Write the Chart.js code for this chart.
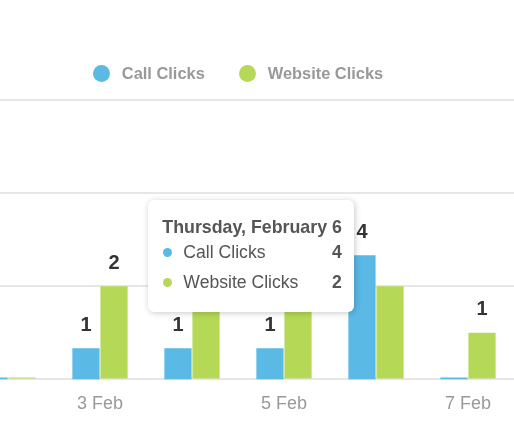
<!DOCTYPE html>
<html>
<head>
<meta charset="utf-8">
<script src="https://cdn.jsdelivr.net/npm/chart.js@4.4.0/dist/chart.umd.min.js"></script>
<style>
  html, body { margin: 0; padding: 0; background: #fff; overflow: hidden; }
  body { width: 514px; height: 423px; position: relative; font-family: "Liberation Sans", Arial, sans-serif; }
  #wrap { position: absolute; left: -38px; top: 0; width: 552px; height: 423px; }
  #legenda { position: absolute; left: 0; right: 0; top: 64px; height: 18px; display: flex; justify-content: center;
             align-items: center; font-size: 16.4px; font-weight: bold; color: #999; }
  #legenda .it { display: flex; align-items: center; margin: 0 17px; }
  #legenda .bola { width: 17px; height: 17px; border-radius: 50%; margin-right: 12px; }
  .tip { position: absolute; background: #fff; border-radius: 6px; box-shadow: 1px 1px 6px rgba(0,0,0,0.22);
         padding: 16px 12px 15px 14px; color: #555; font-size: 17.6px; white-space: nowrap; }
  .tip .t { font-weight: bold; line-height: 22px; font-size: 17.8px; }
  .tip .r { display: flex; align-items: center; height: 29.5px; }
  .tip .r:first-of-type { margin-top: 1px; }
  .tip .dot { width: 9px; height: 9px; border-radius: 50%; margin: 0 11px 0 1px; }
  .tip .v { margin-left: auto; padding-left: 20px; font-weight: bold; }
</style>
</head>
<body>
<div id="wrap"><canvas id="c" width="552" height="423"></canvas><div id="legenda"></div></div>
<script>
// dados
const dias = ['2 Feb', '3 Feb', '4 Feb', '5 Feb', '6 Feb', '7 Feb'];
const titulos = ['Sunday, February 2', 'Monday, February 3', 'Tuesday, February 4',
                 'Wednesday, February 5', 'Thursday, February 6', 'Friday, February 7'];
const callClicks = [0, 1, 1, 1, 4, 0];
const websiteClicks = [0, 2, 2, 2, 2, 1];
const diaAtivo = 4;
// etiquetas que nao aparecem no original ("serie:indice")
const semEtiqueta = ['1:4'];

const cor = { azul: '#5bb9e5', verde: '#b5d957', cinza: '#999999', texto: '#333333', grelha: '#e6e6e6' };

// etiquetas com o valor por cima das barras (sem o plugin datalabels)
const etiquetas = {
  id: 'etiquetas',
  afterDatasetsDraw(chart) {
    const ctx = chart.ctx;
    ctx.save();
    ctx.font = 'bold 20px "Liberation Sans", Arial, sans-serif';
    ctx.fillStyle = cor.texto;
    ctx.textAlign = 'center';
    ctx.textBaseline = 'middle';
    chart.data.datasets.forEach((ds, i) => {
      chart.getDatasetMeta(i).data.forEach((bar, j) => {
        const v = ds.data[j];
        if (v > 0 && !semEtiqueta.includes(i + ':' + j)) ctx.fillText(String(v), bar.x, bar.y - 23);
      });
    });
    ctx.restore();
  }
};

const chart = new Chart(document.getElementById('c'), {
  type: 'bar',
  data: {
    labels: dias,
    datasets: [
      { label: 'Call Clicks', data: callClicks, backgroundColor: cor.azul, yAxisID: 'yCall', minBarLength: 2 },
      { label: 'Website Clicks', data: websiteClicks, backgroundColor: cor.verde, yAxisID: 'y', minBarLength: 2 }
    ]
  },
  options: {
    responsive: false,
    animation: false,
    categoryPercentage: 0.61,
    barPercentage: 0.97,
    layout: { padding: { top: 100, bottom: -6, left: 0, right: 0 } },
    plugins: { tooltip: { enabled: false }, legend: { display: false } },
    scales: {
      x: {
        grid: { display: false, drawTicks: false }, border: { display: false },
        ticks: {
          color: cor.cinza, padding: 14, autoSkip: false, maxRotation: 0,
          font: { family: '"Liberation Sans", Arial, sans-serif', size: 18 },
          callback: (v, i) => (i % 2 === 1 ? dias[i] : '')
        }
      },
      y: {
        min: 0, max: 6,
        ticks: { display: false, stepSize: 2 },
        grid: { color: cor.grelha, lineWidth: 2, drawTicks: false },
        border: { display: false }
      },
      yCall: { display: false, min: 0, max: 9 }
    }
  },
  plugins: [etiquetas]
});

// legenda em html (bolas maiores e mais espaco que a do chart.js)
document.getElementById('legenda').innerHTML = chart.data.datasets.map(ds =>
  `<span class="it"><span class="bola" style="background:${ds.backgroundColor}"></span>${ds.label}</span>`
).join('');

// caixa de detalhe do dia ativo
(function () {
  const barra = chart.getDatasetMeta(0).data[diaAtivo];
  const tip = document.createElement('div');
  tip.className = 'tip';
  tip.innerHTML = `<div class="t">${titulos[diaAtivo]}</div>` +
    chart.data.datasets.map(ds =>
      `<div class="r"><span class="dot" style="background:${ds.backgroundColor}"></span>${ds.label}<span class="v">${ds.data[diaAtivo]}</span></div>`
    ).join('');
  document.body.appendChild(tip);
  const esq = barra.x - barra.width / 2 - 38 + 6 - tip.offsetWidth;
  tip.style.left = esq + 'px';
  tip.style.top = (chart.chartArea.top + 100) + 'px';
})();
</script>
</body>
</html>
